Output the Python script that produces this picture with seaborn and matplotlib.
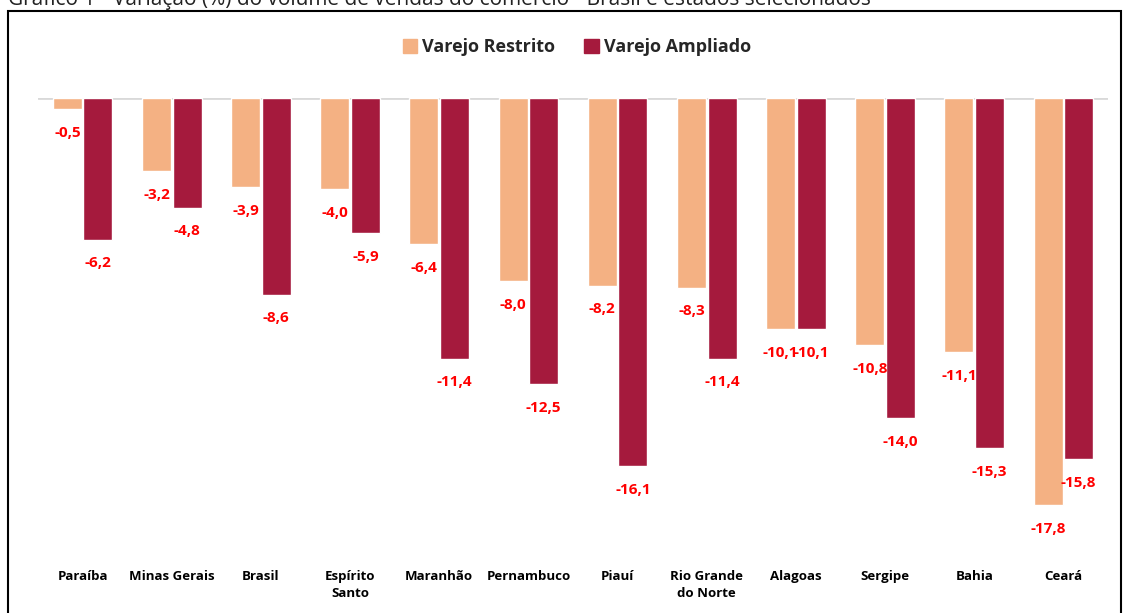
import matplotlib
matplotlib.use("Agg")
import matplotlib.pyplot as plt
import seaborn as sns
import pandas as pd
from matplotlib.patches import Rectangle

categories = ["Paraíba", "Minas Gerais", "Brasil", "Espírito\nSanto", "Maranhão", "Pernambuco",
              "Piauí", "Rio Grande\ndo Norte", "Alagoas", "Sergipe", "Bahia", "Ceará"]
restrito = [-0.5, -3.2, -3.9, -4.0, -6.4, -8.0, -8.2, -8.3, -10.1, -10.8, -11.1, -17.8]
ampliado = [-6.2, -4.8, -8.6, -5.9, -11.4, -12.5, -16.1, -11.4, -10.1, -14.0, -15.3, -15.8]
series = ["Varejo Restrito", "Varejo Ampliado"]
colors = ["#F4B183", "#A51A3D"]
title = "Gráfico 1 - Variação (%) do volume de vendas do comércio - Brasil e estados selecionados"

sns.set_theme(style="white")
plt.rcParams['font.family'] = ['Open Sans', 'DejaVu Sans']

df = pd.DataFrame({
    "cat": categories * 2,
    "serie": [series[0]] * len(categories) + [series[1]] * len(categories),
    "val": restrito + ampliado,
})

W, H = 1124, 613
fig = plt.figure(figsize=(W / 100, H / 100), dpi=100)
ax = fig.add_axes([38 / W, 1 - 560 / H, (1108 - 38) / W, (560 - 98) / H])

sns.barplot(data=df, x="cat", y="val", hue="serie", palette=colors, width=0.685, gap=0.05,
            ax=ax, saturation=1, legend=False, errorbar=None)

ax.set_xlim(-0.5, len(categories) - 0.5)
ax.set_ylim(-20.2, 0)
ax.axhline(0, color="#D9D9D9", lw=2, zorder=0)
for s in ax.spines.values():
    s.set_visible(False)
ax.set_yticks([])
ax.set_xlabel("")
ax.set_ylabel("")
ax.tick_params(axis="x", length=0, pad=7)
for lbl in ax.get_xticklabels():
    lbl.set_fontweight("bold")
    lbl.set_fontsize(9.5)
    lbl.set_color("black")
    lbl.set_linespacing(1.45)

for cont in ax.containers:
    labels = [f"{v:.1f}".replace(".", ",") for v in cont.datavalues]
    ax.bar_label(cont, labels=labels, padding=12, color="#FF0000", fontweight="bold", fontsize=11)

handles = [Rectangle((0, 0), 1, 1, color=c) for c in colors]
fig.legend(handles, series, loc="center", bbox_to_anchor=(577 / W, 1 - 47 / H), ncol=2,
           frameon=False, prop={"weight": "bold", "size": 13}, handlelength=0.8, handleheight=0.8,
           handletextpad=0.3, columnspacing=1.6)

fig.add_artist(Rectangle((8 / W, -0.05), (1121 - 8) / W, 1.05 - 11 / H, transform=fig.transFigure,
                         fill=False, edgecolor="black", lw=1.5))
fig.text(8 / W, 1 - 5 / H, title, fontsize=15, ha="left", va="baseline", color="#222222")

fig.savefig("out.png", dpi=100)
